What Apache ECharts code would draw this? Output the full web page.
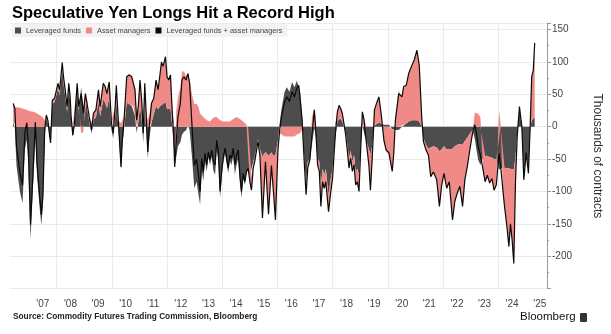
<!DOCTYPE html>
<html><head><meta charset="utf-8">
<script src="https://cdn.jsdelivr.net/npm/echarts@6/dist/echarts.min.js"></script>
<style>html,body{margin:0;padding:0;background:#fff}#c{width:611px;height:334px}</style>
</head><body><div id="c"></div>
<script>
const dates = [
'2006-06-05','2006-06-27','2006-07-19','2006-08-10','2006-09-02','2006-10-07','2006-11-07','2006-12-03','2006-12-23','2007-01-20',
'2007-02-24','2007-03-25','2007-04-16','2007-05-21','2007-06-13','2007-07-04','2007-07-27','2007-08-18','2007-09-08','2007-10-01',
'2007-10-13','2007-11-05','2007-12-05','2008-01-18','2008-02-10','2008-03-15','2008-04-01','2008-04-23','2008-05-19','2008-06-10',
'2008-06-28','2008-07-11','2008-08-02','2008-08-24','2008-09-29','2008-10-20','2008-11-21','2008-12-20','2009-01-16','2009-02-08',
'2009-03-08','2009-04-08','2009-05-03','2009-06-04','2009-07-08','2009-07-30','2009-09-09','2009-10-05','2009-10-27','2009-11-27',
'2009-12-27','2010-01-19','2010-02-14','2010-03-01','2010-03-27','2010-05-02','2010-05-19','2010-06-11','2010-07-16','2010-08-16',
'2010-09-21','2010-10-11','2010-11-03','2010-11-25','2010-12-16','2011-01-08','2011-01-30','2011-02-20','2011-03-12','2011-03-30',
'2011-04-21','2011-05-14','2011-06-09','2011-07-09','2011-08-09','2011-09-04','2011-10-01','2011-10-19','2011-11-09','2011-12-11',
'2012-01-01','2012-01-23','2012-02-15','2012-03-06','2012-03-28','2012-04-11','2012-05-03','2012-05-24','2012-06-25','2012-07-16',
'2012-08-12','2012-09-08','2012-10-04','2012-10-26','2012-11-25','2012-12-27','2013-01-26','2013-02-21','2013-03-14','2013-04-04',
'2013-04-26','2013-05-18','2013-06-09','2013-07-01','2013-07-23','2013-08-14','2013-09-06','2013-09-28','2013-10-19','2013-11-10',
'2013-12-03','2013-12-24','2014-01-16','2014-02-07','2014-02-28','2014-03-20','2014-04-12','2014-05-03','2014-05-25','2014-06-17',
'2014-07-08','2014-07-30','2014-08-22','2014-09-12','2014-10-04','2014-10-27','2014-11-17','2014-12-09','2015-01-01','2015-01-22',
'2015-02-14','2015-03-06','2015-03-27','2015-04-18','2015-05-14','2015-06-16','2015-07-26','2015-09-04','2015-10-13','2015-11-08',
'2015-12-05','2016-01-07','2016-01-30','2016-02-20','2016-04-04','2016-05-04','2016-06-08','2016-07-12','2016-08-13','2016-09-13',
'2016-10-09','2016-10-26','2016-11-21','2016-12-23','2017-01-14','2017-02-05','2017-03-06','2017-04-01','2017-05-03','2017-05-24',
'2017-06-15','2017-07-08','2017-07-29','2017-08-20','2017-09-11','2017-10-02','2017-11-07','2017-12-07','2017-12-30','2018-02-04',
'2018-03-04','2018-03-26','2018-04-17','2018-05-09','2018-06-01','2018-06-22','2018-07-14','2018-08-05','2018-08-26','2018-09-18',
'2018-10-10','2018-11-01','2018-11-23','2018-12-15','2019-01-06','2019-01-28','2019-02-20','2019-03-11','2019-04-02','2019-04-25',
'2019-05-15','2019-06-07','2019-07-07','2019-08-03','2019-09-04','2019-10-04','2019-11-09','2019-12-09','2020-01-14','2020-02-27',
'2020-03-19','2020-04-09','2020-05-23','2020-07-06','2020-07-28','2020-09-01','2020-10-02','2020-11-15','2020-12-15','2021-01-20',
'2021-02-19','2021-03-25','2021-04-16','2021-05-20','2021-06-21','2021-07-21','2021-08-26','2021-10-08','2021-11-13','2021-12-13',
'2022-01-12','2022-02-17','2022-03-23','2022-05-05','2022-06-05','2022-07-06','2022-08-10','2022-09-15','2022-10-15','2022-11-16',
'2022-12-20','2023-01-25','2023-02-24','2023-03-17','2023-04-09','2023-05-09','2023-06-14','2023-07-10','2023-08-09','2023-09-08',
'2023-10-09','2023-11-05','2023-12-05','2024-01-10','2024-01-31','2024-03-02','2024-03-23','2024-04-24','2024-05-20','2024-06-10',
'2024-07-02','2024-07-24','2024-08-15','2024-09-07','2024-10-07','2024-11-08','2024-12-04','2025-01-04','2025-02-03','2025-02-26',
'2025-03-18','2025-04-08','2025-04-27'];

const leveragedFunds = [
8,-2,-60,-80,-100,-118,-35,-20,-60,-175,
-90,-15,-75,-125,-152,-120,-15,12,5,-15,
-20,35,38,59,49,89,67,47,23,59,
40,10,-16,1,59,25,61,29,46,43,
7,-11,11,14,39,16,42,37,29,44,
-5,-18,16,39,2,-67,-31,-5,37,35,
32,32,17,-10,6,32,11,-25,32,-4,
-49,-15,6,19,32,27,32,35,35,38,
27,27,28,6,-25,-62,-46,-30,-24,-13,
-8,-6,2,-5,-45,-95,-85,-105,-120,-67,
-84,-53,-69,-47,-59,-46,-68,-74,-36,-53,
-110,-77,-54,-41,-57,-72,-52,-59,-45,-74,
-59,-50,-87,-110,-80,-90,-72,-66,-75,-78,
-54,-46,-34,-20,-35,-46,-39,-45,-40,-45,
-44,-21,5,25,54,61,54,69,61,71,
74,55,18,-49,-90,-54,-50,-28,-2,-18,
-49,-54,-93,-65,-75,-65,-106,-80,-65,-18,
8,15,13,8,-2,-8,-28,-49,-37,-54,
-44,-70,-65,-75,-30,3,-10,-18,-26,-35,
-43,-30,2,4,6,5,3,3,3,-4,
-6,-5,-5,0,3,5,8,10,10,10,
8,0,-18,-28,-34,-32,-30,-32,-38,-35,
-30,-35,-35,-34,-30,-28,-27,-28,-22,-17,
-11,-5,-19,-35,-51,-59,-47,-45,-45,-47,
-48,-50,-50,-66,-65,-63,-63,-64,-65,-65,
-65,-66,-47,-10,25,-2,-77,-40,-67,-5,
10,12,14];

const assetManagers = [
28,30,30,30,29,28,27,26,25,24,
23,22,20,18,16,14,10,6,4,0,
-5,6,6,8,8,10,10,10,8,8,
6,5,3,4,8,6,-10,-8,5,8,
8,6,10,12,18,15,25,25,22,25,
10,8,15,25,8,5,10,15,40,45,
45,48,40,20,25,40,30,15,35,25,
10,20,30,25,40,30,50,65,58,70,
50,45,52,25,10,0,25,45,60,85,
85,78,80,72,50,35,35,30,20,18,
15,12,10,8,8,10,14,15,15,14,
10,8,8,8,8,8,8,10,12,15,
15,14,12,10,8,5,3,2,-10,-20,
-10,-8,-5,-3,-10,-95,-15,-90,-20,-55,
-100,-15,-10,-12,-15,-15,-15,-15,-15,-12,
-10,-10,-5,-10,-15,-10,0,15,28,10,
-10,-15,-30,-20,-20,-20,-25,-20,-15,5,
15,18,15,12,5,-5,-10,-15,-12,-15,
-15,-20,-20,-25,-5,20,20,5,-10,-25,
-55,-20,24,32,40,15,-24,-39,-43,-65,
-35,15,56,46,59,59,74,85,93,108,
87,13,-5,-8,-10,-45,-40,-50,-85,-55,
-42,-60,-50,-110,-85,-75,-65,-95,-60,-45,
-25,-5,22,25,20,15,-20,-40,-30,-40,
-32,-48,-40,25,5,-35,-60,-90,-120,-85,
-110,-145,-40,-5,6,2,-5,0,-5,5,
67,75,115];

const labelYears = [2007,2008,2009,2010,2011,2012,2013,2014,2015,2016,2017,2018,2019,2020,2021,2022,2023,2024,2025];
const gridYears = [2008,2010,2012,2014,2016,2018,2020,2022,2024];
const seriesNames = ['Leveraged funds','Asset managers','Leveraged funds + asset managers'];

function decYear(s){
  const p = s.split('-').map(Number);
  const a = Date.UTC(p[0],0,1), b = Date.UTC(p[0]+1,0,1), t = Date.UTC(p[0],p[1]-1,p[2]);
  return p[0] + (t-a)/(b-a);
}
const xs = dates.map(decYear);
// value first (stacked dimension), time position second
const levData = xs.map((x,i)=>[leveragedFunds[i], x]);
const amData = xs.map((x,i)=>[assetManagers[i], x]);
const totData = xs.map((x,i)=>[leveragedFunds[i]+assetManagers[i], x]);

const FONT = 'Liberation Sans';
const chart = echarts.init(document.getElementById('c'), null, {renderer:'canvas'});
chart.setOption({
  animation:false,
  backgroundColor:'#fff',
  textStyle:{fontFamily:FONT},
  title:{text:'Speculative Yen Longs Hit a Record High', left:7, top:0,
    textStyle:{fontFamily:FONT, fontSize:16.5, fontWeight:'bold', color:'#000'}},
  legend:{data:seriesNames, left:12, top:24, icon:'rect', itemWidth:6, itemHeight:6, itemGap:5,
    padding:[3,5,3,3], backgroundColor:'#f2f2f2',
    textStyle:{fontFamily:FONT, fontSize:7.4, color:'#444'}},
  grid:{left:10, right:60, top:23, bottom:45.3, containLabel:false},
  xAxis:{type:'value', min:2006.31, max:2025.763,
    axisLine:{show:false},
    axisTick:{show:false, customValues:gridYears},
    splitLine:{show:true, lineStyle:{color:'#ebebeb', width:1}},
    axisLabel:{customValues:labelYears.map(y=>y+0.5), margin:11, fontSize:10, color:'#444',
      formatter:v=>"'" + String(Math.floor(v)).slice(2)}},
  yAxis:{type:'value', position:'right', min:-250, max:160, interval:50,
    axisLine:{show:true, lineStyle:{color:'#999'}},
    axisTick:{show:true, length:4, lineStyle:{color:'#999'}},
    minorTick:{show:true, splitNumber:2, length:2, lineStyle:{color:'#999'}},
    splitLine:{show:true, lineStyle:{color:'#ebebeb'}},
    axisLabel:{margin:5, fontSize:10, color:'#444',
      formatter:v=> (v===160||v===-250) ? '' : String(v)},
    name:'Thousands of contracts', nameLocation:'middle', nameRotate:-90, nameGap:44,
    nameTextStyle:{fontFamily:FONT, fontSize:12, color:'#333'}},
  series:[
    {name:seriesNames[0], type:'line', stack:'pos', data:levData, encode:{x:1, y:0}, symbol:'none',
     lineStyle:{width:0}, itemStyle:{color:'#4d4d4d'}, areaStyle:{color:'#4d4d4d', opacity:1}},
    {name:seriesNames[1], type:'line', stack:'pos', data:amData, encode:{x:1, y:0}, symbol:'none',
     lineStyle:{width:0}, itemStyle:{color:'#f08a86'}, areaStyle:{color:'#f08a86', opacity:1}},
    {name:seriesNames[2], type:'line', data:totData, encode:{x:1, y:0}, symbol:'none',
     lineStyle:{width:1.2, color:'#0a0a0a'}, itemStyle:{color:'#0a0a0a'}}
  ],
  graphic:[
    {type:'text', left:13, top:313, style:{text:'Source: Commodity Futures Trading Commission, Bloomberg',
      font:'bold 8.3px "Liberation Sans"', fill:'#222'}},
    {type:'text', left:520, top:311, style:{text:'Bloomberg', font:'11.5px "Liberation Sans"', fill:'#111'}},
    {type:'rect', left:580, top:313, shape:{width:7, height:9, r:1}, style:{fill:'#333'}}
  ]
});
</script></body></html>
